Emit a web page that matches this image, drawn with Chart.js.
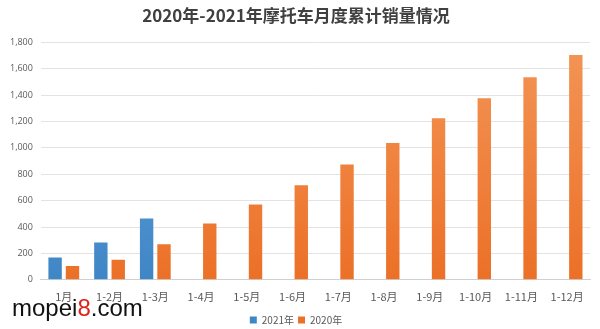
<!DOCTYPE html>
<html>
<head>
<meta charset="utf-8">
<script src="https://cdn.jsdelivr.net/npm/chart.js@4"></script>
<style>
  html, body { margin: 0; padding: 0; background: #fff; }
  #wrap { position: relative; width: 600px; height: 329px; }
  #mark { position: absolute; left: 12px; top: 296px; line-height: 24px; font-family: "Liberation Sans", sans-serif; font-size: 24px; color: #111; }
  #mark b { color: #e0201b; font-weight: normal; }
</style>
</head>
<body>
<div id="wrap">
  <canvas id="salesChart" width="600" height="329"></canvas>
  <div id="mark">mopei<b>8</b>.com</div>
</div>
<script>
// categories and series (万辆)
const months = ['1月', '1-2月', '1-3月', '1-4月', '1-5月', '1-6月', '1-7月', '1-8月', '1-9月', '1-10月', '1-11月', '1-12月'];
const sales2021 = [169, 283, 465, null, null, null, null, null, null, null, null, null];
const sales2020 = [104, 152, 270, 427, 571, 717, 874, 1038, 1225, 1376, 1535, 1705];
const yTicks = [0, 200, 400, 600, 800, 1000, 1200, 1400, 1600, 1800];

// vertical gradient like the Excel bars
function barGradient(light, dark) {
  return function (context) {
    const area = context.chart.chartArea;
    if (!area) return dark;
    const g = context.chart.ctx.createLinearGradient(0, area.top, 0, area.bottom);
    g.addColorStop(0, light);
    g.addColorStop(1, dark);
    return g;
  };
}

// push the legend a little lower, closer to the bottom edge
const legendNudge = {
  id: 'legendNudge',
  afterLayout(chart) {
    if (chart.legend) {
      chart.legend.top += 6;
      chart.legend.bottom += 6;
    }
  }
};

const ctx = document.getElementById('salesChart').getContext('2d');
new Chart(ctx, {
  type: 'bar',
  data: {
    labels: months,
    datasets: [
      {
        label: '2021年',
        data: sales2021,
        backgroundColor: barGradient('#6aa6dc', '#3f86c6'),
        borderWidth: 0
      },
      {
        label: '2020年',
        data: sales2020,
        backgroundColor: barGradient('#f39556', '#ec7027'),
        borderWidth: 0
      }
    ]
  },
  plugins: [legendNudge],
  options: {
    responsive: false,
    animation: false,
    layout: { padding: { left: 2, right: 10, top: 0, bottom: 0 } },
    datasets: {
      bar: { categoryPercentage: 0.76, barPercentage: 0.77 }
    },
    plugins: {
      title: {
        display: true,
        text: '2020年-2021年摩托车月度累计销量情况',
        color: '#404040',
        font: { family: '"Noto Sans CJK SC", sans-serif', size: 17, weight: 'bold' },
        padding: { top: 5, bottom: 17 }
      },
      legend: {
        position: 'bottom',
        labels: {
          boxWidth: 7,
          boxHeight: 7,
          padding: 4,
          color: '#595959',
          font: { family: '"Noto Sans CJK SC", sans-serif', size: 10 }
        }
      },
      tooltip: { enabled: false }
    },
    scales: {
      x: {
        grid: { display: false },
        border: { color: '#d0d0d0' },
        ticks: {
          color: '#595959',
          padding: 2,
          maxRotation: 0,
          autoSkip: false,
          font: { family: '"Noto Sans CJK SC", sans-serif', size: 11 }
        }
      },
      y: {
        min: 0,
        max: 1800,
        afterBuildTicks: function (axis) {
          axis.ticks = yTicks.map(v => ({ value: v }));
        },
        grid: { color: '#e3e3e3', drawTicks: false },
        border: { display: false },
        ticks: {
          color: '#595959',
          padding: 8,
          font: { family: '"Open Sans", sans-serif', size: 9 },
          callback: v => v.toLocaleString('en-US')
        }
      }
    }
  }
});
</script>
</body>
</html>
